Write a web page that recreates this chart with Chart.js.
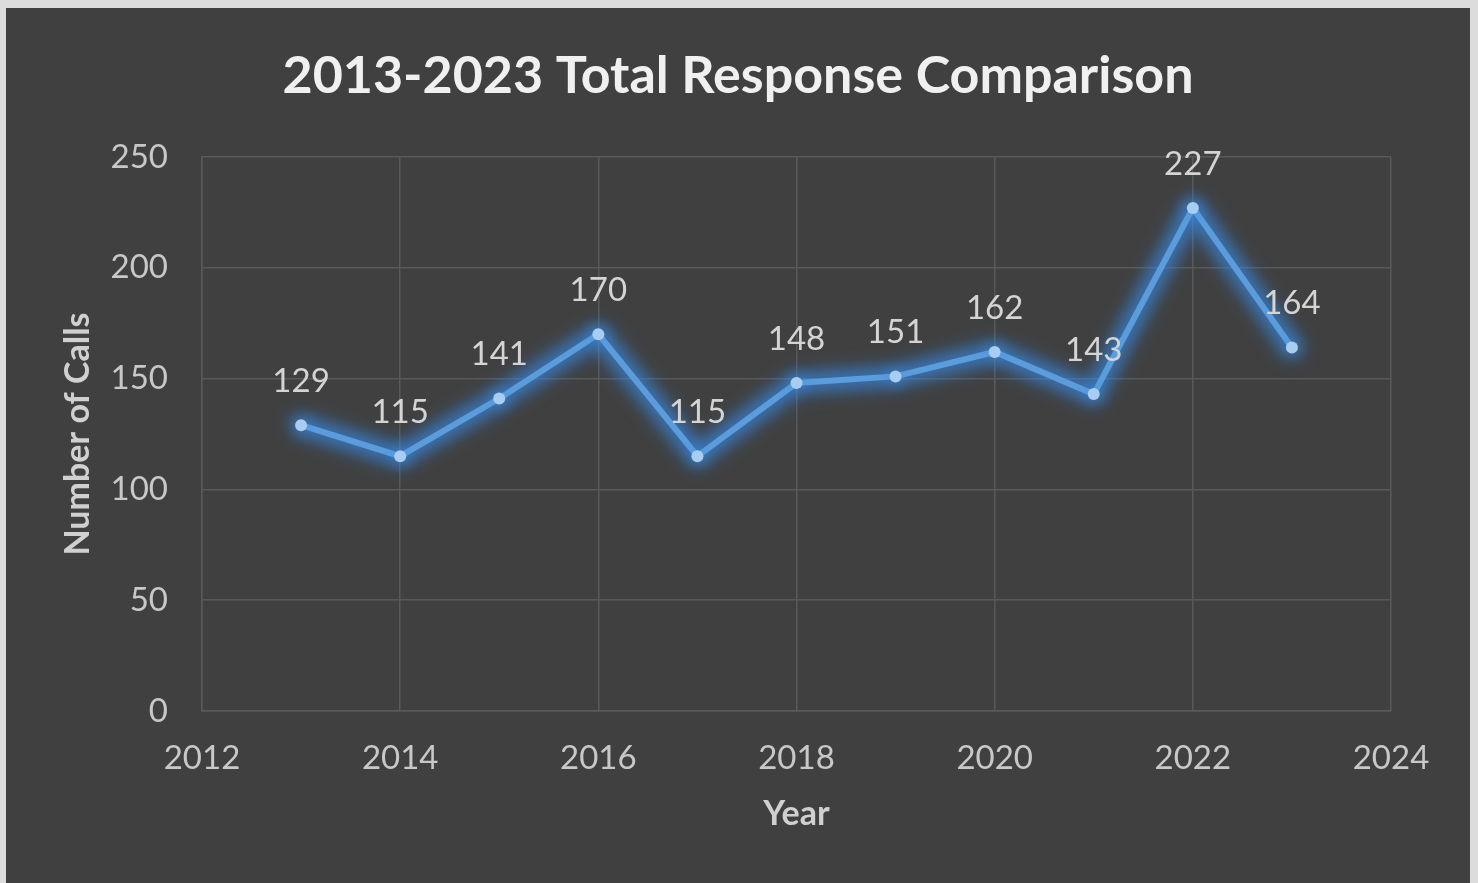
<!DOCTYPE html>
<html>
<head>
<meta charset="utf-8">
<script src="https://cdn.jsdelivr.net/npm/chart.js@4.4.1/dist/chart.umd.min.js"></script>
<style>
  html, body { margin: 0; padding: 0; background: #dcdcdc; }
  #frame {
    position: absolute; left: 6px; top: 8px;
    width: 1464px; height: 875px;
    background: #404040;
  }
  canvas { display: block; }
</style>
</head>
<body>
<div id="frame"><canvas id="chart" width="1464" height="875"></canvas></div>
<script>
// chart data
const years = [2013, 2014, 2015, 2016, 2017, 2018, 2019, 2020, 2021, 2022, 2023];
const calls = [129, 115, 141, 170, 115, 148, 151, 162, 143, 227, 164];
const xTicks = [2012, 2014, 2016, 2018, 2020, 2022, 2024];
const yTicks = [0, 50, 100, 150, 200, 250];
const chartTitle = '2013-2023 Total Response Comparison';

const FONT = "Lato, 'Open Sans', sans-serif";
const gridColor = '#595959';

// soft blue glow under the line, like the Excel effect
const glowPlugin = {
  id: 'glow',
  beforeDatasetDraw(chart) {
    const ctx = chart.ctx;
    const pts = chart.getDatasetMeta(0).data;
    // blurred halo following the points
    ctx.save();
    ctx.filter = 'blur(9px)';
    ctx.strokeStyle = 'rgba(55, 135, 225, 0.55)';
    ctx.lineWidth = 22;
    ctx.lineJoin = 'round';
    ctx.lineCap = 'round';
    ctx.beginPath();
    pts.forEach((p, i) => (i ? ctx.lineTo(p.x, p.y) : ctx.moveTo(p.x, p.y)));
    ctx.stroke();
    ctx.restore();

    ctx.save();
    ctx.shadowColor = 'rgba(60, 145, 240, 0.9)';
    ctx.shadowBlur = 16;
  },
  afterDatasetDraw(chart) {
    chart.ctx.restore();
  }
};

// value labels above each point, title centred on the whole frame
const textPlugin = {
  id: 'texts',
  afterDatasetsDraw(chart) {
    const ctx = chart.ctx;
    const meta = chart.getDatasetMeta(0);
    const values = chart.data.datasets[0].data;
    ctx.save();
    ctx.font = '33px ' + FONT;
    ctx.fillStyle = '#d4d4d4';
    ctx.textAlign = 'center';
    ctx.textBaseline = 'middle';
    meta.data.forEach((pt, i) => {
      ctx.fillText(String(values[i].y), pt.x, pt.y - 44);
    });
    ctx.font = 'bold 52px ' + FONT;
    ctx.fillStyle = '#f0f0f0';
    ctx.fillText(chartTitle, chart.width / 2, 68);
    ctx.restore();
  }
};

new Chart(document.getElementById('chart'), {
  type: 'line',
  data: {
    datasets: [{
      label: 'Calls',
      data: years.map((y, i) => ({ x: y, y: calls[i] })),
      borderColor: '#5b9ddc',
      borderWidth: 6,
      pointRadius: 6,
      pointBackgroundColor: '#a8cdf0',
      pointBorderWidth: 0,
      tension: 0,
    }]
  },
  options: {
    responsive: false,
    animation: false,
    layout: { padding: { left: 0, right: 79, top: 149, bottom: 0 } },
    plugins: {
      legend: { display: false },
      tooltip: { enabled: false },
      title: { display: false },
    },
    scales: {
      x: {
        type: 'linear',
        min: 2012,
        max: 2024,
        afterBuildTicks: (scale) => { scale.ticks = xTicks.map(v => ({ value: v })); },
        afterFit: (scale) => { scale.height = 172; },
        ticks: {
          color: '#c8c8c8',
          font: { family: FONT, size: 33 },
          padding: 28,
          callback: (v) => String(v),
        },
        grid: { color: gridColor, lineWidth: 1.5, drawTicks: false },
        border: { color: gridColor, width: 1.5 },
        title: {
          display: true,
          text: 'Year',
          color: '#d0d0d0',
          font: { family: FONT, size: 34, weight: 'bold' },
          padding: { top: 20, bottom: 49 },
        },
      },
      y: {
        min: 0,
        max: 250,
        afterBuildTicks: (scale) => { scale.ticks = yTicks.map(v => ({ value: v })); },
        afterFit: (scale) => { scale.width = 196; },
        ticks: {
          color: '#c8c8c8',
          font: { family: FONT, size: 33 },
          padding: 34,
        },
        grid: { color: gridColor, lineWidth: 1.5, drawTicks: false },
        border: { color: gridColor, width: 1.5 },
        title: {
          display: true,
          text: 'Number of Calls',
          color: '#d0d0d0',
          font: { family: FONT, size: 34, weight: 'bold' },
          padding: 52,
        },
      },
    },
  },
  plugins: [glowPlugin, textPlugin],
});
</script>
</body>
</html>
